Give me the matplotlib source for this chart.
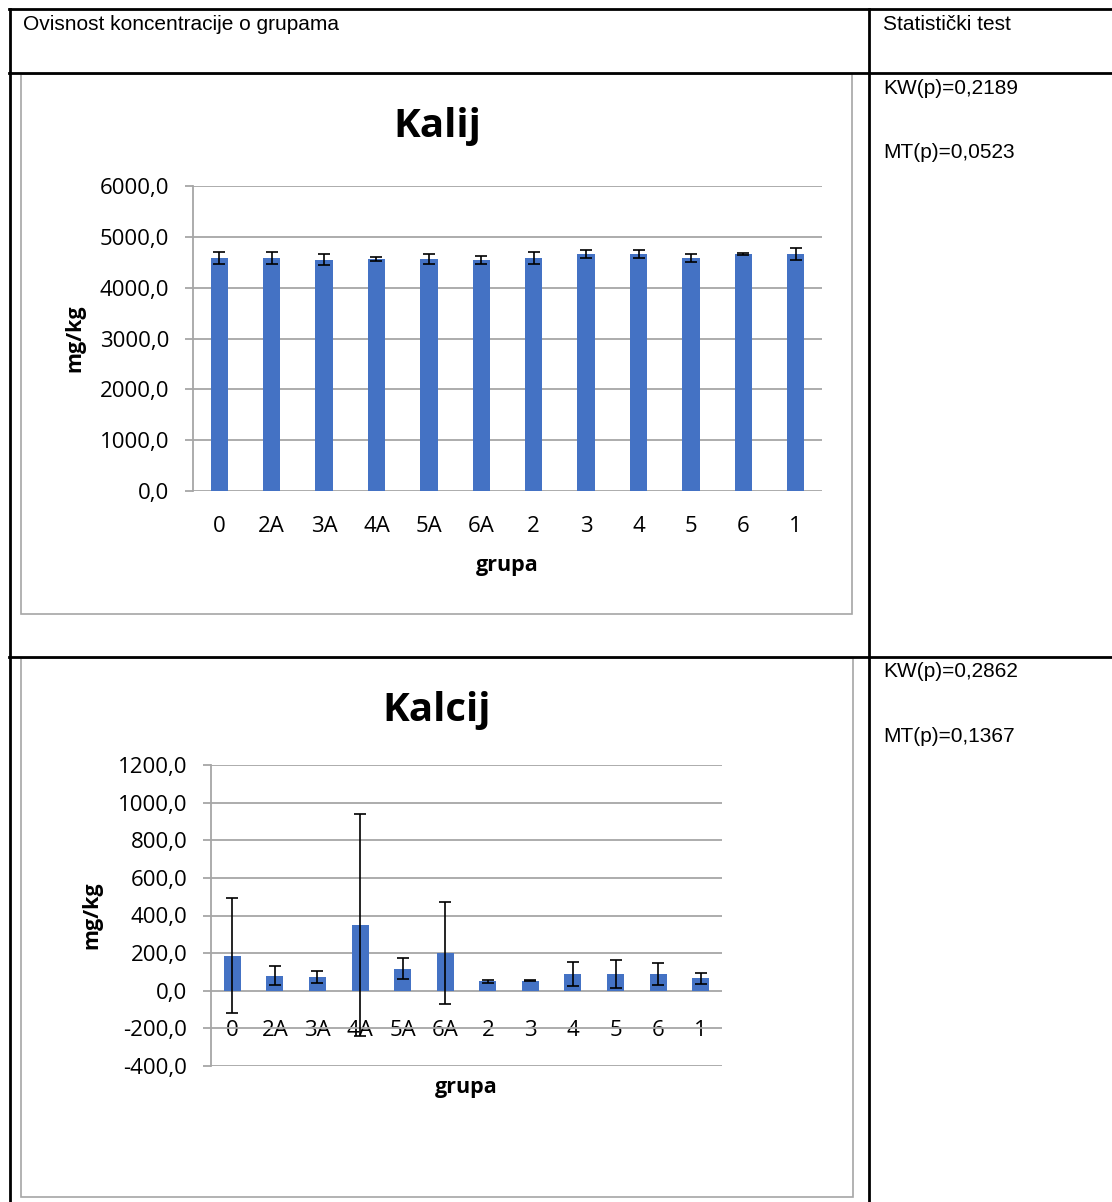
import matplotlib
matplotlib.use("Agg")
import matplotlib.pyplot as plt
from matplotlib.patches import Rectangle
from matplotlib.lines import Line2D
from matplotlib.ticker import FuncFormatter, MultipleLocator

# ---------------- data ----------------
groups = ["0", "2A", "3A", "4A", "5A", "6A", "2", "3", "4", "5", "6", "1"]

kalij_mean = [4590, 4578, 4545, 4570, 4564, 4545, 4584, 4663, 4657, 4584, 4657, 4663]
kalij_err = [115, 115, 108, 36, 100, 70, 118, 75, 78, 85, 23, 110]

kalcij_mean = [186, 80, 73, 349, 117, 202, 51, 53, 89, 90, 90, 66]
kalcij_err = [305, 52, 30, 592, 57, 271, 8, 2, 65, 73, 57, 28]

kalij_stats = ["KW(p)=0,2189", "MT(p)=0,0523"]
kalcij_stats = ["KW(p)=0,2862", "MT(p)=0,1367"]

header_left = "Ovisnost koncentracije o grupama"
header_right = "Statistički test"

# ---------------- layout helpers ----------------
W, H = 1112, 1202
DPI = 100
fig = plt.figure(figsize=(W / DPI, H / DPI), dpi=DPI)
fig.patch.set_facecolor("white")


def fx(x):
    return x / W


def fy(y):
    return 1 - y / H


def hline(x0, x1, y, lw=2.0, color="black"):
    fig.add_artist(Line2D([fx(x0), fx(x1)], [fy(y), fy(y)], lw=lw, color=color,
                          transform=fig.transFigure))


def vline(x, y0, y1, lw=2.0, color="black"):
    fig.add_artist(Line2D([fx(x), fx(x)], [fy(y0), fy(y1)], lw=lw, color=color,
                          transform=fig.transFigure))


def box(x0, y0, x1, y1, color="#a6a6a6", lw=1.2):
    fig.add_artist(Rectangle((fx(x0), fy(y1)), fx(x1) - fx(x0), fy(y0) - fy(y1),
                             fill=False, edgecolor=color, lw=lw,
                             transform=fig.transFigure))


TABLE_FONT = "Liberation Sans"
CHART_FONT = "Open Sans"
BAR_COLOR = "#4472C4"
GRID_COLOR = "#a6a6a6"
TFS = 15
CFS = 16

# ---------------- table frame ----------------
hline(9, W, 9)
hline(9, W, 73)
hline(9, W, 657)
vline(10, 9, H)
vline(869, 9, H)

fig.text(fx(23), fy(24), header_left, family=TABLE_FONT, fontsize=TFS, va="center", ha="left")
fig.text(fx(883), fy(24), header_right, family=TABLE_FONT, fontsize=TFS, va="center", ha="left")

for i, s in enumerate(kalij_stats):
    fig.text(fx(883), fy(88 + 64 * i), s, family=TABLE_FONT, fontsize=TFS, va="center", ha="left")
for i, s in enumerate(kalcij_stats):
    fig.text(fx(883), fy(672 + 65 * i), s, family=TABLE_FONT, fontsize=TFS, va="center", ha="left")

# chart frames
box(21, 74, 852, 614)
box(21, 658, 853, 1197)


def fmt(v, pos):
    return f"{v:.1f}".replace(".", ",")


def make_chart(l, t, r, b, means, errs, ymin, ymax, step, title, title_y,
               ylabel_x, xlabel_y, bar_width, xpad):
    ax = fig.add_axes([fx(l), fy(b), fx(r) - fx(l), fy(t) - fy(b)])
    x = list(range(len(groups)))
    ax.bar(x, means, width=bar_width, color=BAR_COLOR, zorder=3)
    ax.errorbar(x, means, yerr=errs, fmt="none", ecolor="black", elinewidth=1.2,
                capsize=4, capthick=1.2, zorder=4)
    ax.set_xlim(-0.5, len(groups) - 0.5)
    ax.set_ylim(ymin, ymax)
    ax.yaxis.set_major_locator(MultipleLocator(step))
    ax.yaxis.set_major_formatter(FuncFormatter(fmt))
    ax.grid(axis="y", color=GRID_COLOR, lw=1.3, zorder=0)
    ax.set_axisbelow(True)
    for s in ["top", "right"]:
        ax.spines[s].set_visible(False)
    ax.spines["left"].set_color(GRID_COLOR)
    ax.spines["left"].set_linewidth(1.3)
    ax.spines["bottom"].set_position(("data", 0))
    ax.spines["bottom"].set_visible(False)
    ax.set_xticks(x)
    ax.set_xticklabels(groups)
    ax.tick_params(axis="x", length=0, pad=xpad, labelsize=CFS)
    ax.tick_params(axis="y", length=6, width=1.3, color=GRID_COLOR, pad=11, labelsize=CFS)
    for lab in ax.get_xticklabels() + ax.get_yticklabels():
        lab.set_family(CHART_FONT)
    ax.set_facecolor("none")
    cx = (l + r) / 2
    fig.text(fx(437), fy(title_y), title, family=CHART_FONT, fontweight="bold",
             fontsize=29, ha="center", va="center")
    fig.text(fx(cx), fy(xlabel_y), "grupa", family=CHART_FONT, fontweight="bold",
             fontsize=15.5, ha="center", va="center")
    fig.text(fx(ylabel_x), fy((t + b) / 2), "mg/kg", family=CHART_FONT, fontweight="bold",
             fontsize=15.5, ha="center", va="center", rotation=90)
    return ax


make_chart(193, 186, 822, 491, kalij_mean, kalij_err, 0, 6000, 1000,
           "Kalij", 126, 75, 566, 0.33, 18)
make_chart(211, 765, 722, 1066, kalcij_mean, kalcij_err, -400, 1200, 200,
           "Kalcij", 711, 92, 1088, 0.4, 21)

fig.savefig("out.png", dpi=DPI, facecolor="white")
